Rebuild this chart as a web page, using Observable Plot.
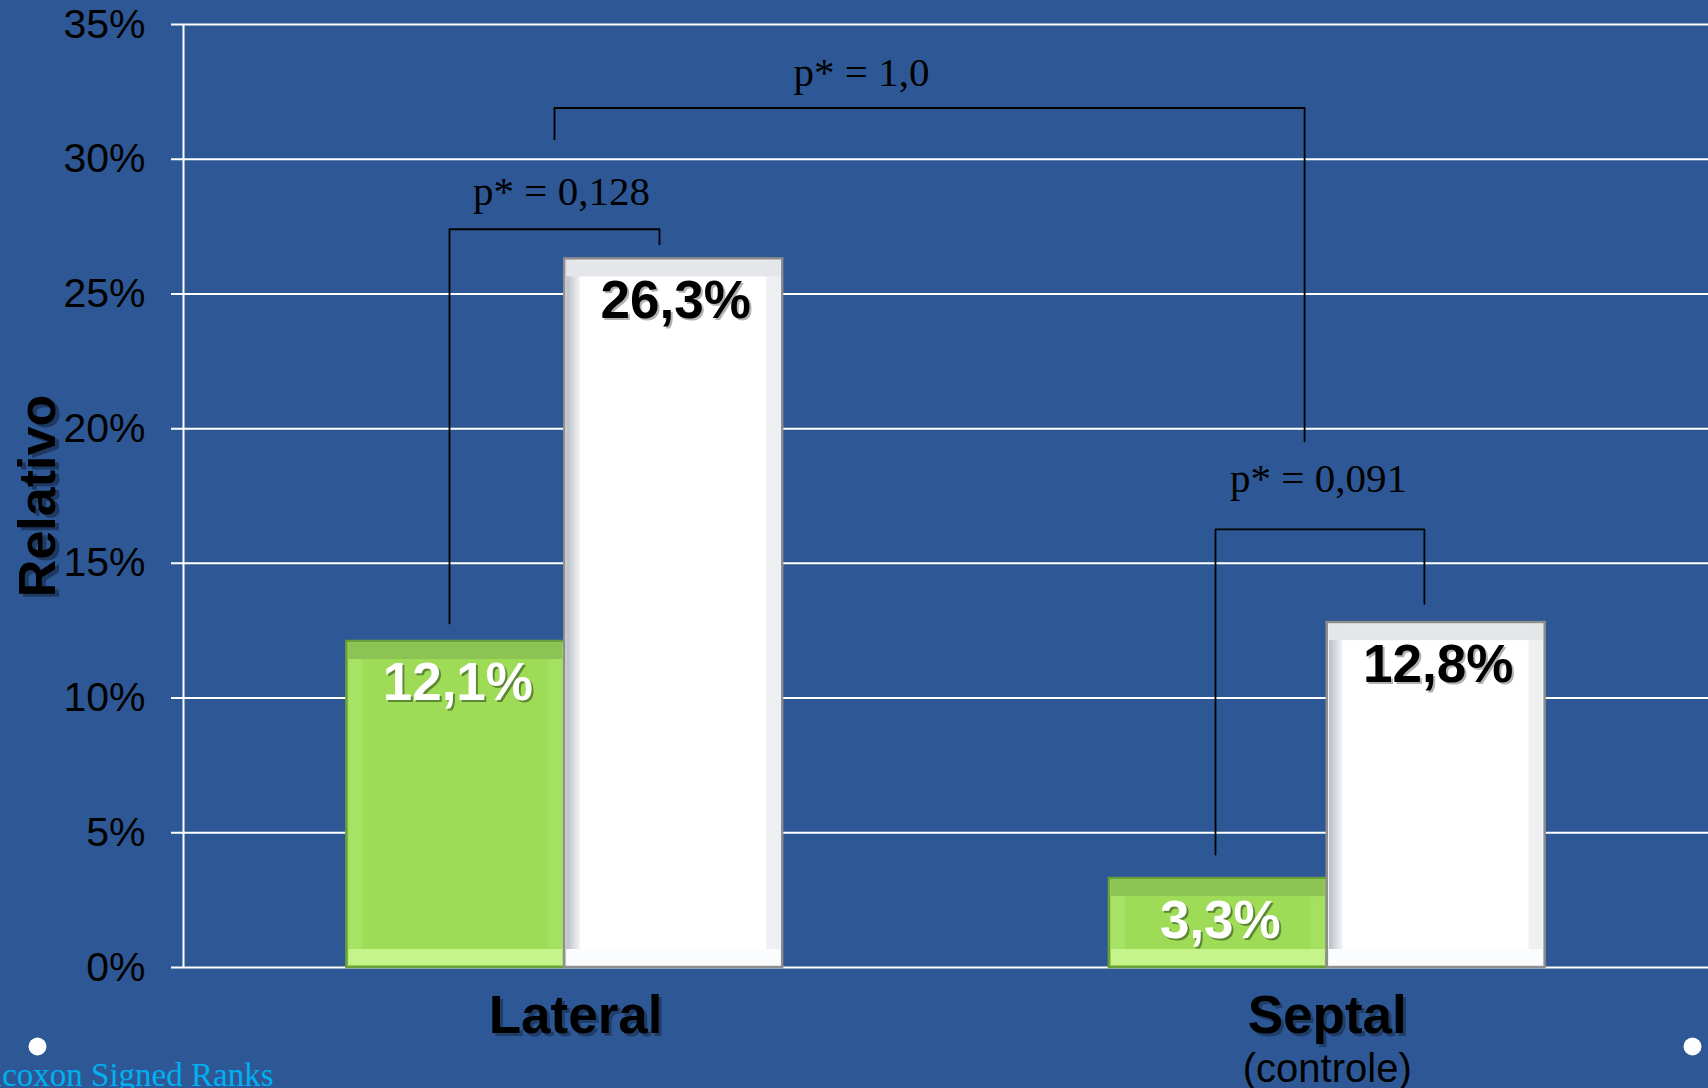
<!DOCTYPE html>
<html><head><meta charset="utf-8">
<script src="https://cdn.jsdelivr.net/npm/d3@7"></script>
<script src="https://cdn.jsdelivr.net/npm/@observablehq/plot@0.6"></script>
<style>html,body{margin:0;padding:0;background:#2e5895;overflow:hidden}</style>
</head><body><div id="chart"></div>
<script>
// ---- data ----
const groups = ["Lateral", "Septal"];
const groupNotes = ["", "(controle)"];
const seriesNames = ["Verde", "Branco"];
const greenValues = [12.1, 3.3];
const whiteValues = [26.3, 12.8];
const yTicks = [0, 5, 10, 15, 20, 25, 30, 35];
const yLabel = "Relativo";
const footnote = "Wilcoxon Signed Ranks";
// significance brackets (x in bar-slot units, y in %)
const pLabels = ["p* = 0,128", "p* = 0,091", "p* = 1,0"];
const bracketX1 = [1.221, 4.737, 1.703];
const bracketX2 = [2.185, 5.696, 5.146];
const bracketTop = [27.4, 16.26, 31.9];
const bracketLeftEnd = [12.77, 4.19, 30.74];
const bracketRightEnd = [26.84, 13.5, 19.53];
const pLabelX = [1.735, 5.21, 3.112];
const pLabelY = [28.8, 18.15, 33.2];

// ---- derived tables ----
const fmt = v => v.toFixed(1).replace(".", ",") + "%";
const bars = groups.flatMap((g, i) => [greenValues[i], whiteValues[i]].map((v, s) => ({
  group: g, series: seriesNames[s], s, value: v,
  x1: 0.75 + 3.5 * i + s, x2: 1.75 + 3.5 * i + s, cx: 1.25 + 3.5 * i + s
})));
const green = bars.filter(d => d.s === 0);
const white = bars.filter(d => d.s === 1);
const groupRows = groups.map((g, i) => ({group: g, note: groupNotes[i], cx: 1.75 + 3.5 * i}));
const bracketPts = pLabels.flatMap((p, i) => [
  {id: p, x: bracketX1[i], y: bracketLeftEnd[i]},
  {id: p, x: bracketX1[i], y: bracketTop[i]},
  {id: p, x: bracketX2[i], y: bracketTop[i]},
  {id: p, x: bracketX2[i], y: bracketRightEnd[i]}
]);
const pRows = pLabels.map((p, i) => ({text: p, x: pLabelX[i], y: pLabelY[i]}));

const SANS = "Liberation Sans, Arial, sans-serif";
const SERIF = "Liberation Serif, Times New Roman, serif";
const B = 16; // bevel width

function bevel(data, c) {
  const base = {x1: "x1", x2: "x2"};
  return [
    Plot.rect(data, {...base, y1: 0, y2: "value", fill: c.main}),
    Plot.rect(data, {x1: "x1", x2: "x1", y1: 0, y2: "value", insetLeft: 2, insetRight: -B, insetTop: 2, insetBottom: 2, fill: c.left}),
    Plot.rect(data, {x1: "x2", x2: "x2", y1: 0, y2: "value", insetLeft: -B, insetRight: 2, insetTop: 2, insetBottom: 2, fill: c.right}),
    Plot.rect(data, {...base, y1: "value", y2: "value", insetTop: 2, insetBottom: -(B + 2), insetLeft: 2, insetRight: 2, fill: c.top}),
    Plot.rect(data, {...base, y1: 0, y2: 0, insetTop: -(B + 2), insetBottom: 2, insetLeft: 2, insetRight: 2, fill: c.bottom}),
    Plot.rect(data, {...base, y1: 0, y2: "value", fill: "none", stroke: c.border, strokeWidth: 2.5})
  ];
}

const chart = Plot.plot({
  width: 1708, height: 1088,
  marginLeft: 183, marginRight: 0, marginTop: 24, marginBottom: 121,
  x: {domain: [0, 7], axis: null},
  y: {domain: [0, 35], ticks: yTicks, tickFormat: d => d + "%", tickSize: 0, tickPadding: 38, label: null},
  color: {type: "identity"},
  style: {background: "#2e5895", color: "black", fontFamily: SANS, fontSize: "41px"},
  marks: [
    Plot.ruleY(yTicks, {stroke: "white", strokeWidth: 2, insetLeft: -12}),
    Plot.ruleX([0], {stroke: "white", strokeWidth: 2}),
    ...bevel(green, {main: "#9edc58", left: "#a6e264", right: "#a4e160", top: "#8cc354", bottom: "#c4f48a", border: "#6b9f3c"}),
    ...bevel(white, {main: "#ffffff", left: "url(#wl)", right: "#eef0f3", top: "#e4e6ea", bottom: "#fbfcfd", border: "#8e8e8e"}),
    // value labels with shadow
    Plot.text(green, {x: "cx", y: "value", text: d => fmt(d.value), dy: 44, dx: 4, fontSize: 53, fontWeight: "bold", fill: "rgba(40,70,20,0.55)"}),
    Plot.text(green, {x: "cx", y: "value", text: d => fmt(d.value), dy: 42, dx: 2, fontSize: 53, fontWeight: "bold", fill: "white"}),
    Plot.text(white, {x: "cx", y: "value", text: d => fmt(d.value), dy: 44, dx: 4, fontSize: 53, fontWeight: "bold", fill: "rgba(0,0,0,0.3)"}),
    Plot.text(white, {x: "cx", y: "value", text: d => fmt(d.value), dy: 42, dx: 2, fontSize: 53, fontWeight: "bold", fill: "black"}),
    // brackets
    Plot.line(bracketPts, {x: "x", y: "y", z: "id", stroke: "black", strokeWidth: 1.8}),
    Plot.text(pRows, {x: "x", y: "y", text: "text", fontFamily: SERIF, fontSize: 41, fill: "black"}),
    // group labels (Lateral label sits slightly right of its group centre in the original)
    Plot.text(groupRows, {x: (d, i) => d.cx + (i === 0 ? 0.05 : 0), y: () => 0, text: "group", dy: 52, dx: 3, fontSize: 53, fontWeight: "bold", fill: "rgba(0,0,0,0.3)"}),
    Plot.text(groupRows, {x: (d, i) => d.cx + (i === 0 ? 0.05 : 0), y: () => 0, text: "group", dy: 49, fontSize: 53, fontWeight: "bold", fill: "black"}),
    Plot.text(groupRows, {x: "cx", y: () => 0, text: "note", dy: 102, fontSize: 40, fill: "black"}),
    // axis title
    Plot.text([yLabel], {frameAnchor: "left", dx: -141, dy: 3, rotate: -90, textAnchor: "middle", fontSize: 52, fontWeight: "bold", fill: "rgba(0,0,0,0.35)"}),
    Plot.text([yLabel], {frameAnchor: "left", dx: -145, rotate: -90, textAnchor: "middle", fontSize: 52, fontWeight: "bold", fill: "black"}),
    // slide decorations
    Plot.dot([0], {frameAnchor: "bottom-left", dx: -146, dy: 79, r: 9, fill: "white", stroke: "none"}),
    Plot.dot([0], {frameAnchor: "bottom-right", dx: -16, dy: 79, r: 9, fill: "white", stroke: "none"}),
    Plot.text([footnote], {frameAnchor: "bottom-left", dx: 90, dy: 118, textAnchor: "end", fontFamily: SERIF, fontSize: 33, fill: "#00b0f0"})
  ]
});

d3.select(chart).insert("defs", ":first-child").html(
  '<linearGradient id="wl" x1="0" x2="1" y1="0" y2="0"><stop offset="0" stop-color="#b8bcc4"/><stop offset="1" stop-color="#f4f6f9"/></linearGradient>'
);
document.getElementById("chart").appendChild(chart);
</script></body></html>
